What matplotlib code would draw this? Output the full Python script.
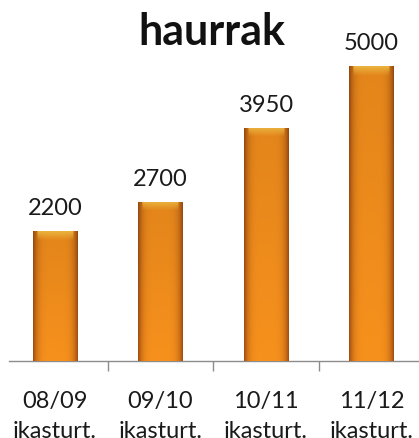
import numpy as np
import matplotlib
matplotlib.use("Agg")
from matplotlib import pyplot as plt
from matplotlib.colors import to_rgb

plt.rcParams["font.family"] = ["Lato", "DejaVu Sans"]

TITLE = "haurrak"
periods = ["08/09", "09/10", "10/11", "11/12"]
period_suffix = "ikasturt."
values = [2200, 2700, 3950, 5000]

W, H, DPI = 419, 439, 100
PX_PER_UNIT = 295 / 5000.0
BASE_PX = 362
BAR_WIDTH = 0.42


def bar_image(height_units, nx=60, ny=400):
    # horizontal shading: dark edges, light centre; lighter bevel at top
    edge = np.array(to_rgb("#a24e10"))
    mid = np.array(to_rgb("#f7911d"))
    light = np.array(to_rgb("#ffc445"))
    xs = np.linspace(-1, 1, nx)
    prof = np.clip(1 - np.abs(xs) ** 5, 0, 1)
    row = edge[None, :] * (1 - prof[:, None]) + mid[None, :] * prof[:, None]
    img = np.repeat(row[None, :, :], ny, axis=0)
    # bevel at top (~9 px)
    bevel_units = 9 / PX_PER_UNIT
    ys = np.linspace(height_units, 0, ny)
    t = np.clip((ys - (height_units - bevel_units)) / bevel_units, 0, 1)[:, None, None]
    inner = (np.abs(xs) < 0.82)[None, :, None]
    img = np.where(inner, img * (1 - t) + light[None, None, :] * t, img)
    # slightly darker towards bottom
    fade = np.linspace(0, 0.08, ny)[::-1][:, None, None]
    img = img * (1 - fade)
    return np.clip(img, 0, 1)


fig = plt.figure(figsize=(W / DPI, H / DPI), dpi=DPI)
ax = fig.add_axes([9 / W, (H - BASE_PX) / H, 1 - 9 / W, BASE_PX / H])

x = np.arange(len(values))
bars = ax.bar(x, values, width=BAR_WIDTH, color="#e07f1e", edgecolor="none", zorder=2)
for b, v in zip(bars, values):
    x0 = b.get_x()
    im = ax.imshow(bar_image(v), extent=[x0, x0 + b.get_width(), 0, v],
                   aspect="auto", zorder=3, interpolation="bilinear")
    im.set_clip_path(b)
    ax.annotate(f"{v}", (b.get_x() + b.get_width() / 2, v), xytext=(0, 17 * 72 / DPI),
                textcoords="offset points", ha="center", va="baseline",
                fontsize=17, color="#1a1a1a")

left_units = (55 - 9) / 105.5
ax.set_xlim(-left_units, -left_units + (W - 9) / 105.5)
ax.set_ylim(0, BASE_PX / PX_PER_UNIT)

for s in ["top", "right", "left"]:
    ax.spines[s].set_visible(False)
ax.spines["bottom"].set_color("#8c8c8c")
ax.spines["bottom"].set_linewidth(1.0)
ax.set_yticks([])

ax.set_xticks(x)
ax.set_xticklabels([f"{p}\n{period_suffix}" for p in periods], fontsize=17,
                   color="#1a1a1a", linespacing=1.5)
ax.tick_params(axis="x", which="major", length=0, pad=21)
ax.set_xticks(x[:-1] + 0.5, minor=True)
ax.tick_params(axis="x", which="minor", length=7, width=1.0, color="#8c8c8c", direction="out")

fig.text(212 / W, 1 - 45 / H, TITLE, ha="center", va="baseline",
         fontsize=31, fontweight="bold", color="#111111")

fig.savefig("out.png", dpi=DPI)
